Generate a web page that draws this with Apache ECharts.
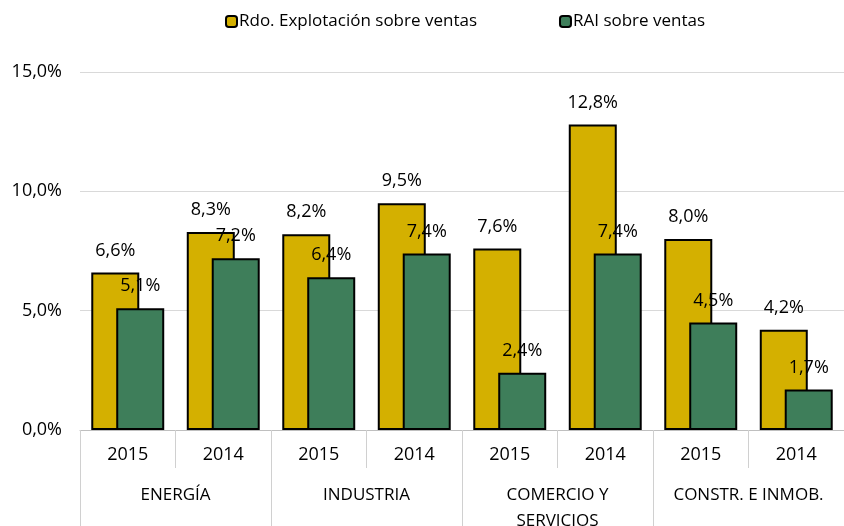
<!DOCTYPE html>
<html>
<head>
<meta charset="utf-8">
<script src="https://cdn.jsdelivr.net/npm/echarts@6/dist/echarts.min.js"></script>
<style>
html, body { margin: 0; padding: 0; background: #fff; }
#chart { width: 844px; height: 526px; }
</style>
</head>
<body>
<div id="chart"></div>
<script>
// datos
const years = ['2015', '2014', '2015', '2014', '2015', '2014', '2015', '2014'];
const sectors = ['ENERGÍA', 'INDUSTRIA', 'COMERCIO Y\nSERVICIOS', 'CONSTR. E INMOB.'];
const rdoExplotacion = [6.6, 8.3, 8.2, 9.5, 7.6, 12.8, 8.0, 4.2];
const raiVentas = [5.1, 7.2, 6.4, 7.4, 2.4, 7.4, 4.5, 1.7];
const seriesNames = ['Rdo. Explotación sobre ventas', 'RAI sobre ventas'];

const font = 'Open Sans';
const pct = v => v.toFixed(1).replace('.', ',') + '%';

let chart = echarts.init(document.getElementById('chart'));
chart.setOption({
    animation: false,
    textStyle: { fontFamily: font },
    legend: {
        top: 8,
        left: 220,
        itemGap: 82,
        itemWidth: 11,
        itemHeight: 11,
        textStyle: { fontSize: 17, color: '#000', fontFamily: font, padding: [0, 0, 0, -3] },
        data: seriesNames
    },
    grid: { left: 80, right: 0, top: 72, bottom: 96, outerBoundsMode: 'none', containLabel: false },
    xAxis: [{
        type: 'category',
        data: years,
        position: 'bottom',
        axisLine: { show: true, lineStyle: { color: '#bfbfbf' } },
        axisTick: { show: true, length: 38, interval: 0, lineStyle: { color: '#d0d0d0' } },
        axisLabel: { fontSize: 18, color: '#000', margin: 16, interval: 0 }
    }, {
        type: 'category',
        data: sectors,
        position: 'bottom',
        axisLine: { show: false },
        axisTick: { show: true, length: 96, interval: 0, lineStyle: { color: '#d0d0d0' } },
        axisLabel: { fontSize: 17, color: '#000', margin: 52, lineHeight: 26, interval: 0 }
    }],
    yAxis: {
        type: 'value',
        min: 0,
        max: 15,
        interval: 5,
        axisLine: { show: false },
        axisTick: { show: false },
        axisLabel: { fontSize: 18, color: '#000', margin: 18, formatter: pct },
        splitLine: { lineStyle: { color: '#d9d9d9' } }
    },
    series: [{
        name: seriesNames[0],
        type: 'bar',
        barWidth: 48,
        barGap: '-48%',
        data: rdoExplotacion,
        itemStyle: { color: '#d4b000', borderColor: '#000', borderWidth: 2 },
        label: {
            show: true, position: 'top', distance: 13,
            fontSize: 18, color: '#000', fontFamily: font,
            formatter: p => pct(p.value)
        }
    }, {
        name: seriesNames[1],
        type: 'bar',
        barWidth: 48,
        data: raiVentas,
        itemStyle: { color: '#3e7e5a', borderColor: '#000', borderWidth: 2 },
        label: {
            show: true, position: 'top', distance: 13,
            fontSize: 18, color: '#000', fontFamily: font,
            formatter: p => pct(p.value)
        }
    }]
});
</script>
</body>
</html>
